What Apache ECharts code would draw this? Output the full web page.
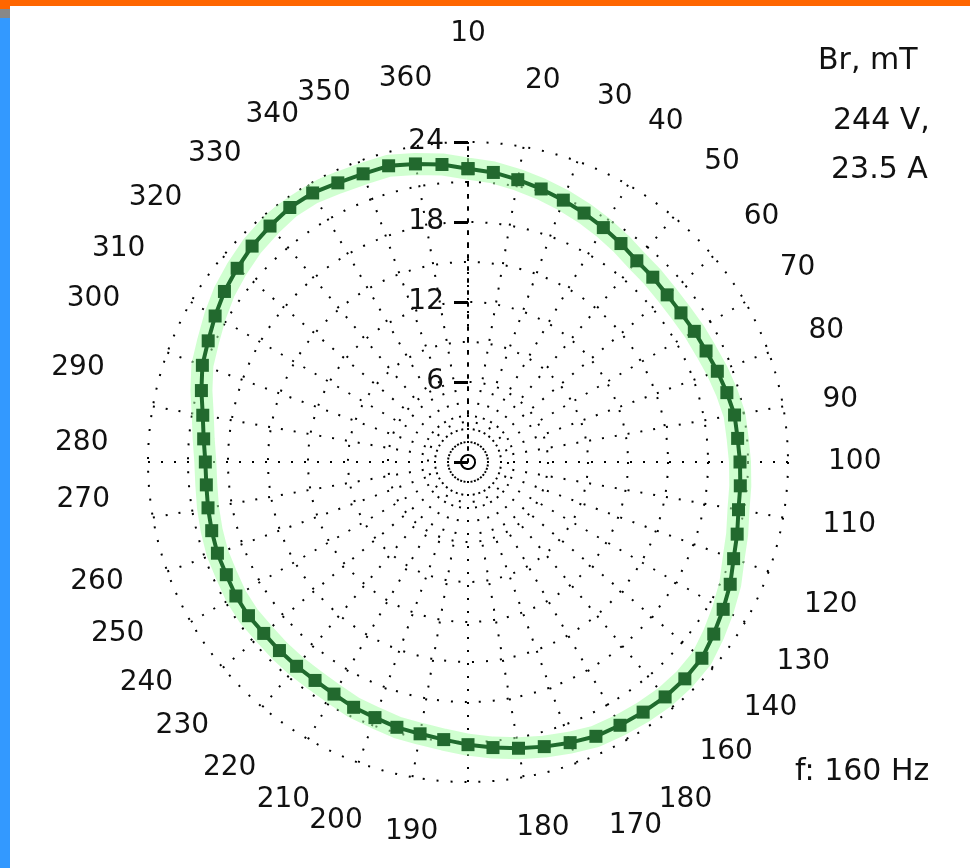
<!DOCTYPE html>
<html><head><meta charset="utf-8">
<script src="https://cdn.jsdelivr.net/npm/echarts@6/dist/echarts.min.js"></script>
<style>html,body{margin:0;padding:0;background:#fff;}#c{width:970px;height:868px;}</style>
</head><body><div id="c"></div>
<script>
// Angle tick labels, clockwise from the top (as printed on the reference)
const angleTickLabels = ['10','20','30','40','50','60','70','80','90','100','110','120','130','140','160','180','170','180','190','200','210','220','230','240','250','260','270','280','290','300','310','320','330','340','350','360'];
// Angular positions (deg, clockwise from top) where those labels are printed
const angleTickPositions = [0,12,21,30,41,50,60,71,80,90,100,111,121,130,140,148,157,168,189,197,206,216,226,235,244,253,264,273,284,292,301,311,321,332,341,350];
// Measurement angles (degrees)
const angles = [0,5,10,15,20,25,30,35,40,45,50,55,60,65,70,75,80,85,90,95,100,105,110,115,120,125,130,135,140,145,150,155,160,165,170,175,180,185,190,195,200,205,210,215,220,225,230,235,240,245,250,255,260,265,270,275,280,285,290,295,300,305,310,315,320,325,330,335,340,345,350,355];
// Radial flux density Br, mT
const brValues = [22.0,21.8,21.5,21.2,20.9,20.6,20.3,20.0,19.7,19.6,19.5,19.5,19.6,19.7,19.9,20.1,20.3,20.3,20.4,20.5,20.6,20.9,21.2,21.7,22.1,22.5,22.9,23.0,23.0,22.9,22.8,22.7,22.4,22.1,21.8,21.5,21.2,20.9,20.7,20.6,20.4,20.3,20.1,20.0,20.0,20.0,20.0,20.1,20.1,20.0,20.0,19.9,19.8,19.7,19.7,19.9,20.2,20.7,21.2,21.5,21.9,22.3,22.6,22.9,23.1,23.3,23.3,23.1,23.0,23.0,22.7,22.4];
// Radial tick labels
const radiusTickLabels = ['6','12','18','24'];
const infoTexts = ['Br, mT', '244 V,', '23.5 A'];
const freqText = 'f: 160 Hz';

const curve = angles.map((a, i) => [brValues[i], a]);
curve.push([brValues[0], 360]);

const FONT = 'DejaVu Sans';
const labelStyle = (pad) => ({fontSize: 28, fontFamily: FONT, color: '#111', padding: pad});
const chart = echarts.init(document.getElementById('c'), null, {renderer: 'canvas'});
chart.setOption({
  backgroundColor: '#ffffff',
  animation: false,
  polar: {center: [468, 462], radius: 320},
  angleAxis: {
    type: 'value', min: 0, max: 360, interval: 10, startAngle: 90, clockwise: true,
    axisLine: {show: false},
    axisTick: {show: false},
    axisLabel: {
      customValues: angleTickPositions,
      margin: 40, fontSize: 28, color: '#111', fontFamily: FONT,
      formatter: v => {
        const i = angleTickPositions.indexOf(v);
        if (i < 0) return '';
        const t = angleTickLabels[i];
        if (v === 0) return '{far|' + t + '}';
        if (v <= 45 || v >= 320) return '{up|' + t + '}';
        if (v >= 280) return '{ul|' + t + '}';
        if (v >= 145 && v <= 165) return '{dn|' + t + '}';
        return t;
      },
      rich: {
        far: labelStyle([0, 0, 54, 0]),
        up: labelStyle([0, 0, 15, 0]),
        ul: labelStyle([0, 14, 14, 0]),
        dn: labelStyle([18, 0, 0, 0])
      }
    },
    splitLine: {show: true, lineStyle: {color: '#000', width: 2, type: [2, 11]}}
  },
  radiusAxis: {
    min: 0, max: 24, interval: 6,
    axisLine: {show: true, lineStyle: {color: '#000', width: 2, type: [3, 9]}},
    axisTick: {show: true, length: 14, lineStyle: {color: '#000', width: 3}},
    axisLabel: {
      fontSize: 28, color: '#111', fontFamily: FONT, margin: 24,
      formatter: v => radiusTickLabels.includes(String(v)) ? String(v) : ''
    },
    splitLine: {show: true, lineStyle: {color: '#000', width: 2, type: [2, 12]}},
    minorTick: {show: false, splitNumber: 2},
    minorSplitLine: {show: true, lineStyle: {color: '#000', width: 2, type: [2, 12]}}
  },
  series: [
    {
      type: 'line', coordinateSystem: 'polar', data: curve, symbol: 'none', z: 2,
      lineStyle: {color: 'rgba(170,255,170,0.55)', width: 22}
    },
    {
      type: 'line', coordinateSystem: 'polar', data: curve, symbol: 'rect', symbolSize: 13, z: 3,
      lineStyle: {color: '#1f6a2d', width: 4},
      itemStyle: {color: '#22692e'}
    }
  ],
  graphic: [
    {type: 'rect', shape: {x: 0, y: 0, width: 970, height: 6}, style: {fill: '#ff6600'}, silent: true},
    {type: 'rect', shape: {x: 0, y: 0, width: 10, height: 9}, style: {fill: '#ff6600'}, silent: true},
    {type: 'rect', shape: {x: 0, y: 9, width: 10, height: 9}, style: {fill: '#888888'}, silent: true},
    {type: 'rect', shape: {x: 0, y: 18, width: 10, height: 850}, style: {fill: '#3399ff'}, silent: true},
    {type: 'text', left: 818, top: 46, style: {text: infoTexts[0], fontSize: 30, fill: '#111', fontFamily: FONT}},
    {type: 'text', left: 833, top: 106, style: {text: infoTexts[1], fontSize: 30, fill: '#111', fontFamily: FONT}},
    {type: 'text', left: 831, top: 155, style: {text: infoTexts[2], fontSize: 30, fill: '#111', fontFamily: FONT}},
    {type: 'text', left: 795, top: 757, style: {text: freqText, fontSize: 30, fill: '#111', fontFamily: FONT}}
  ]
});
</script></body></html>
